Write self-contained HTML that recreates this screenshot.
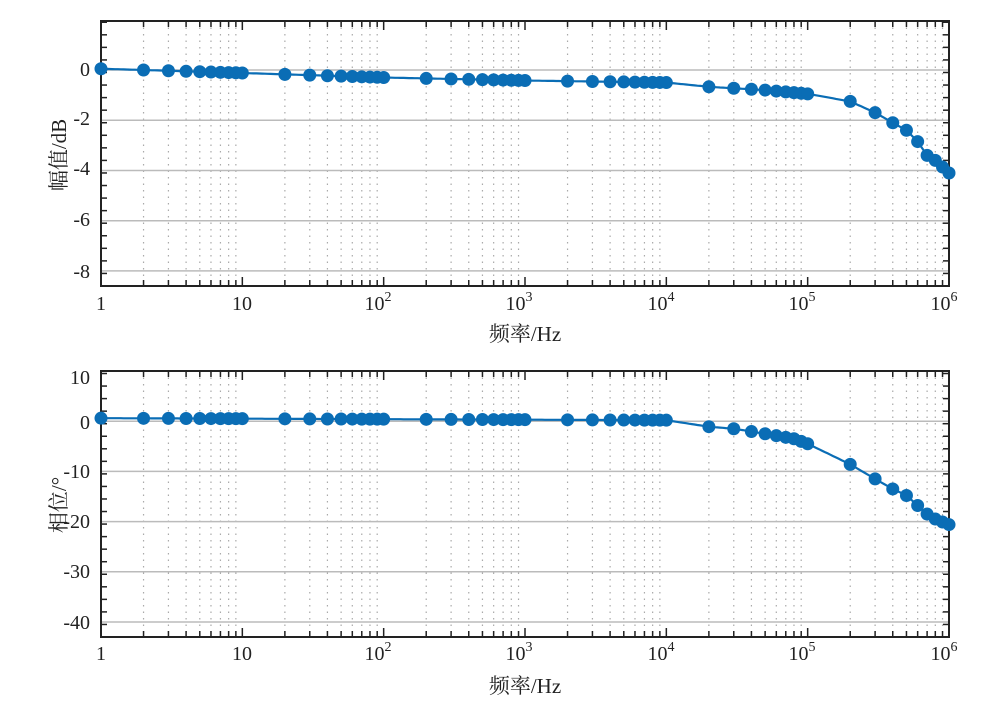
<!DOCTYPE html>
<html><head><meta charset="utf-8"><style>
html,body{margin:0;padding:0;background:#fff;}
svg{display:block;}
text{font-family:"Liberation Serif","Noto Serif CJK SC",serif;fill:#222;}
</style></head><body>
<svg id="s" width="1000" height="713" xmlns="http://www.w3.org/2000/svg">
<g id="g"></g>
<!-- top labels -->
<g font-size="20" text-anchor="end">
<text x="90" y="76">0</text>
<text x="90" y="125">-2</text>
<text x="90" y="175">-4</text>
<text x="90" y="226">-6</text>
<text x="90" y="278">-8</text>
<text x="90" y="384">10</text>
<text x="90" y="429">0</text>
<text x="90" y="478">-10</text>
<text x="90" y="528">-20</text>
<text x="90" y="578">-30</text>
<text x="90" y="629">-40</text>
</g>
<g font-size="20" text-anchor="middle">
<text x="101" y="310">1</text>
<text x="242" y="310">10</text>
<text x="378" y="310">10<tspan font-size="14" dy="-9">2</tspan></text>
<text x="519" y="310">10<tspan font-size="14" dy="-9">3</tspan></text>
<text x="661" y="310">10<tspan font-size="14" dy="-9">4</tspan></text>
<text x="802" y="310">10<tspan font-size="14" dy="-9">5</tspan></text>
<text x="944" y="310">10<tspan font-size="14" dy="-9">6</tspan></text>
<text x="101" y="660">1</text>
<text x="242" y="660">10</text>
<text x="378" y="660">10<tspan font-size="14" dy="-9">2</tspan></text>
<text x="519" y="660">10<tspan font-size="14" dy="-9">3</tspan></text>
<text x="661" y="660">10<tspan font-size="14" dy="-9">4</tspan></text>
<text x="802" y="660">10<tspan font-size="14" dy="-9">5</tspan></text>
<text x="944" y="660">10<tspan font-size="14" dy="-9">6</tspan></text>
<text x="525" y="341" font-size="21">频率/Hz</text>
<text x="525" y="693" font-size="21">频率/Hz</text>
<text transform="translate(66,155) rotate(-90)" font-size="21">幅值/dB</text>
<text transform="translate(66,505) rotate(-90)" font-size="21">相位/°</text>
</g>
</svg>
<script>
var NS="http://www.w3.org/2000/svg",g=document.getElementById('g');
function el(t,a){var e=document.createElementNS(NS,t);for(var k in a)e.setAttribute(k,a[k]);g.appendChild(e);return e;}
var X0=101,X1=949;function X(f){return X0+(X1-X0)*Math.log10(f)/6;}
function axes(top,bot,ymax,ymin,major,minor){
 function Y(v){return top+(bot-top)*(ymax-v)/(ymax-ymin);}
 for(var d=0;d<6;d++)for(var m=2;m<=9;m++){var x=X(m*Math.pow(10,d));el('line',{x1:x,x2:x,y1:top,y2:bot,stroke:'#aaa','stroke-width':1.2,'stroke-dasharray':'1.5,5'});}
 major.forEach(function(v){if(v<ymax-0.01){var y=Y(v);el('line',{x1:X0,x2:X1,y1:y,y2:y,stroke:'#bbb','stroke-width':1.5});}});
 // ticks x
 for(var d=0;d<=6;d++){for(var m=1;m<=9;m++){if(d==6&&m>1)break;var x=X(m*Math.pow(10,d));var L=m==1?9:6;
  el('line',{x1:x,x2:x,y1:bot,y2:bot-L,stroke:'#222','stroke-width':1.5});el('line',{x1:x,x2:x,y1:top,y2:top+L,stroke:'#222','stroke-width':1.5});}}
 for(var v=ymin;v<=ymax+1e-6;v+=minor){v=Math.round(v*1000)/1000;var y=Y(v);var isM=major.some(function(q){return Math.abs(q-v)<1e-6});var L=isM?10:6;
  el('line',{x1:X0,x2:X0+L,y1:y,y2:y,stroke:'#222','stroke-width':1.5});el('line',{x1:X1,x2:X1-L,y1:y,y2:y,stroke:'#222','stroke-width':1.5});}
 el('rect',{x:X0,y:top,width:X1-X0,height:bot-top,fill:'none',stroke:'#222','stroke-width':2});
 return Y;
}
function interp(tab,f){var l=Math.log10(f);for(var i=0;i<tab.length-1;i++){if(l<=tab[i+1][0]){var t=(l-tab[i][0])/(tab[i+1][0]-tab[i][0]);return tab[i][1]+t*(tab[i+1][1]-tab[i][1]);}}return tab[tab.length-1][1];}
function L(f){return Math.log10(f);}
var mag=[[0,0.05],[1,-0.12],[2,-0.3],[3,-0.42],[4,-0.5],[L(2e4),-0.67],[L(5e4),-0.8],[5,-0.95],[L(2e5),-1.25],[L(3e5),-1.7],[L(4e5),-2.1],[L(5e5),-2.4],[L(6e5),-2.85],[L(7e5),-3.4],[L(8e5),-3.6],[6,-4.1]];
var ph=[[0,0.6],[4,0.2],[L(2e4),-1.1],[L(3e4),-1.5],[L(5e4),-2.5],[L(8e4),-3.5],[5,-4.5],[L(2e5),-8.6],[L(3e5),-11.5],[L(4e5),-13.5],[L(5e5),-14.8],[L(6e5),-16.8],[L(7e5),-18.5],[L(8e5),-19.5],[6,-20.6]];
var fs=[];for(var d=0;d<6;d++)for(var m=1;m<=9;m++)fs.push(m*Math.pow(10,d));fs.push(1e6);
function series(Y,tab){var p='';for(var i=0;i<=300;i++){var f=Math.pow(10,6*i/300);p+=(i?'L':'M')+X(f).toFixed(1)+','+Y(interp(tab,f)).toFixed(1);}
 el('path',{d:p,fill:'none',stroke:'#0a6db5','stroke-width':2.2});
 fs.forEach(function(f){el('circle',{cx:X(f),cy:Y(interp(tab,f)),r:6.5,fill:'#0a6db5'});});}
var Y1=axes(21,286,1.95,-8.6,[0,-2,-4,-6,-8],0.5);
series(Y1,mag);
var Y2=axes(371,637,10,-43,[10,0,-10,-20,-30,-40],2.5);
series(Y2,ph);
</script>
</body></html>
